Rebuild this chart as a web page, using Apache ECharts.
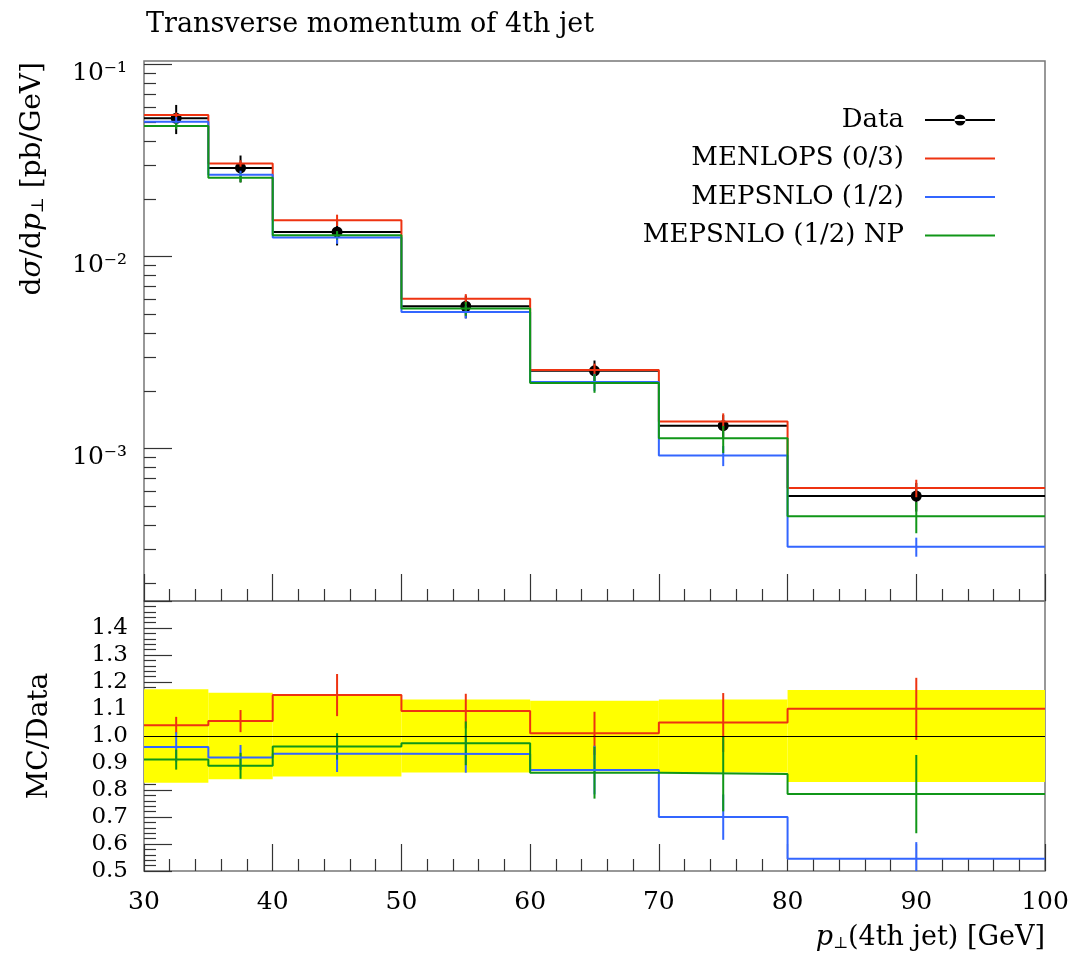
<!DOCTYPE html>
<html>
<head>
<meta charset="utf-8">
<title>Transverse momentum of 4th jet</title>
<script src="https://cdn.jsdelivr.net/npm/echarts@6/dist/echarts.min.js"></script>
<style>
  html, body { margin: 0; padding: 0; background: #fff; }
  #chart { width: 1073px; height: 957px; }
</style>
</head>
<body>
<div id="chart"></div>
<script>
// bin edges of the 4th jet p_T histogram [GeV]
const binEdges = [30, 35, 40, 50, 60, 70, 80, 100];

// measured cross section [pb/GeV] and its relative uncertainty (yellow band)
const dataValues = [0.0526, 0.0290, 0.01346, 0.00552, 0.002545, 0.001318, 0.000567];
const dataRelErr = [0.173, 0.160, 0.150, 0.135, 0.131, 0.135, 0.170];

// MC predictions [pb/GeV]
const menlops = [0.0547, 0.0306, 0.0155, 0.00603, 0.00257, 0.001384, 0.000624];
const mepsnlo = [0.05045, 0.0267, 0.01258, 0.00515, 0.002224, 0.000922, 0.000309];
const mepsnloNP = [0.0480, 0.0258, 0.01294, 0.00537, 0.002199, 0.001132, 0.000445];

// MC statistical errors, as a fraction of the data value
const menlopsErr = [0.031, 0.041, 0.078, 0.064, 0.080, 0.109, 0.115];
const mepsnloErr = [0.055, 0.046, 0.068, 0.069, 0.090, 0.084, 0.062];
const mepsnloNPErr = [0.037, 0.048, 0.049, 0.081, 0.096, 0.138, 0.145];

const seriesNames = ['MENLOPS (0/3)', 'MEPSNLO (1/2)', 'MEPSNLO (1/2) NP'];
const seriesColors = ['#EE3311', '#3366FF', '#109618'];

// axis ticks
const xTicks = { min: 30, max: 100, interval: 10 };
const logMajorTicks = [0.001, 0.01, 0.1];
const logMajorLabels = ['10\u207b\u00b3', '10\u207b\u00b2', '10\u207b\u00b9'];
const logMinorMantissas = [2, 3, 4, 5, 6, 7, 8, 9];
const logMinorDecades = [0.0001, 0.001, 0.01];
const ratioTicks = { min: 0.5, max: 1.5, interval: 0.1 };

const FONT = '"DejaVu Serif", serif';
const TICK_COLOR = '#333';
const FRAME_COLOR = '#777';

const logMinorTicks = [];
logMinorDecades.forEach((d) => {
  logMinorMantissas.forEach((m) => logMinorTicks.push(+(m * d).toPrecision(3)));
});

const binCenters = dataValues.map((_, i) => (binEdges[i] + binEdges[i + 1]) / 2);

function stepData(values) {
  const pts = values.map((v, i) => [binEdges[i], v]);
  pts.push([binEdges[binEdges.length - 1], values[values.length - 1]]);
  return pts;
}

function errorBarItem(params, api) {
  const top = api.coord([api.value(0), api.value(2)]);
  const bottom = api.coord([api.value(0), api.value(1)]);
  return {
    type: 'line',
    shape: { x1: top[0], y1: top[1], x2: bottom[0], y2: bottom[1] },
    style: { stroke: api.visual('color'), lineWidth: 2 },
  };
}

function dataItem(params, api) {
  const mid = (api.value(0) + api.value(1)) / 2;
  const left = api.coord([api.value(0), api.value(2)]);
  const right = api.coord([api.value(1), api.value(2)]);
  const center = api.coord([mid, api.value(2)]);
  const hi = api.coord([mid, api.value(4)]);
  const lo = api.coord([mid, api.value(3)]);
  return {
    type: 'group',
    children: [
      { type: 'line', shape: { x1: left[0], y1: left[1], x2: right[0], y2: right[1] }, style: { stroke: '#000', lineWidth: 2 } },
      { type: 'line', shape: { x1: hi[0], y1: hi[1], x2: lo[0], y2: lo[1] }, style: { stroke: '#000', lineWidth: 2 } },
      { type: 'circle', shape: { cx: center[0], cy: center[1], r: 5.5 }, style: { fill: '#000' } },
    ],
  };
}

function bandItem(params, api) {
  const p1 = api.coord([api.value(0), api.value(3)]);
  const p2 = api.coord([api.value(1), api.value(2)]);
  return {
    type: 'rect',
    shape: { x: p1[0], y: p1[1], width: p2[0] - p1[0], height: p2[1] - p1[1] },
    style: { fill: '#FFFF00' },
  };
}

const mcValues = [menlops, mepsnlo, mepsnloNP];
const mcErrors = [menlopsErr, mepsnloErr, mepsnloNPErr];

const series = [];

// top panel: data
series.push({
  name: 'Data',
  type: 'custom',
  xAxisIndex: 0,
  yAxisIndex: 0,
  clip: true,
  itemStyle: { color: '#000' },
  encode: { x: [0, 1], y: [2, 3, 4] },
  renderItem: dataItem,
  data: dataValues.map((v, i) => [binEdges[i], binEdges[i + 1], v, v * (1 - dataRelErr[i]), v * (1 + dataRelErr[i])]),
});

// top panel: MC histograms with error bars
mcValues.forEach((vals, k) => {
  series.push({
    name: seriesNames[k],
    type: 'line',
    xAxisIndex: 0,
    yAxisIndex: 0,
    step: 'end',
    symbol: 'none',
    color: seriesColors[k],
    lineStyle: { width: 2, color: seriesColors[k] },
    data: stepData(vals),
  });
  series.push({
    name: seriesNames[k],
    type: 'custom',
    xAxisIndex: 0,
    yAxisIndex: 0,
    clip: true,
    itemStyle: { color: seriesColors[k] },
    encode: { x: 0, y: [1, 2] },
    renderItem: errorBarItem,
    data: vals.map((v, i) => [binCenters[i], v - mcErrors[k][i] * dataValues[i], v + mcErrors[k][i] * dataValues[i]]),
  });
});

// ratio panel: data uncertainty band and unit line
series.push({
  name: 'Data',
  type: 'custom',
  xAxisIndex: 1,
  yAxisIndex: 2,
  clip: true,
  itemStyle: { color: '#000' },
  encode: { x: [0, 1], y: [2, 3] },
  renderItem: bandItem,
  data: dataRelErr.map((e, i) => [binEdges[i], binEdges[i + 1], 1 - e, 1 + e]),
  markLine: {
    silent: true,
    symbol: 'none',
    label: { show: false },
    lineStyle: { color: '#000', width: 1, type: 'solid' },
    data: [{ yAxis: 1 }],
  },
});

// ratio panel: MC / data
mcValues.forEach((vals, k) => {
  const ratio = vals.map((v, i) => v / dataValues[i]);
  series.push({
    name: seriesNames[k],
    type: 'line',
    xAxisIndex: 1,
    yAxisIndex: 2,
    step: 'end',
    symbol: 'none',
    color: seriesColors[k],
    lineStyle: { width: 2, color: seriesColors[k] },
    data: stepData(ratio),
  });
  series.push({
    name: seriesNames[k],
    type: 'custom',
    xAxisIndex: 1,
    yAxisIndex: 2,
    clip: true,
    itemStyle: { color: seriesColors[k] },
    encode: { x: 0, y: [1, 2] },
    renderItem: errorBarItem,
    data: ratio.map((r, i) => [binCenters[i], r - mcErrors[k][i], r + mcErrors[k][i]]),
  });
});

const LINE_ICON = 'path://M0,0h0.01v0.01h-0.01z M16,4.5h70v2h-70z M85.99,10.99h0.01v0.01h-0.01z';
const DATA_ICON = 'path://M0,0h0.01v0.01h-0.01z M16,4.5h70v2h-70z M45.5,5.5a5.5,5.5 0 1,0 11,0a5.5,5.5 0 1,0 -11,0z';

const xTickCommon = {
  type: 'value',
  min: xTicks.min,
  max: xTicks.max,
  interval: xTicks.interval,
  axisLine: { show: false },
  splitLine: { show: false },
  axisTick: { inside: true, length: 27, lineStyle: { color: TICK_COLOR, width: 1.2 } },
  minorTick: { show: true, splitNumber: 5, length: 12, lineStyle: { color: TICK_COLOR, width: 1.2 } },
};

const option = {
  animation: false,
  backgroundColor: '#fff',
  title: {
    text: 'Transverse momentum of 4th jet',
    left: 141,
    top: 6,
    textStyle: { fontFamily: FONT, fontSize: 27, fontWeight: 'normal', color: '#000' },
  },
  legend: {
    orient: 'vertical',
    align: 'right',
    right: 73,
    top: 102,
    itemWidth: 86,
    itemHeight: 11,
    itemGap: 12.5,
    selectedMode: false,
    itemStyle: { borderWidth: 0 },
    textStyle: { fontFamily: FONT, fontSize: 26, color: '#000' },
    data: [
      { name: 'Data', icon: DATA_ICON },
      { name: seriesNames[0], icon: LINE_ICON },
      { name: seriesNames[1], icon: LINE_ICON },
      { name: seriesNames[2], icon: LINE_ICON },
    ],
  },
  grid: [
    { left: 144, right: 28, top: 61, height: 540, show: true, borderColor: FRAME_COLOR, borderWidth: 1.5, backgroundColor: 'transparent' },
    { left: 144, right: 28, top: 601, height: 270, show: true, borderColor: FRAME_COLOR, borderWidth: 1.5, backgroundColor: 'transparent' },
  ],
  xAxis: [
    Object.assign({ gridIndex: 0, axisLabel: { show: false } }, xTickCommon),
    Object.assign({
      gridIndex: 1,
      axisLabel: { fontFamily: FONT, fontSize: 25, color: '#000', margin: 19 },
    }, xTickCommon),
  ],
  yAxis: [
    {
      gridIndex: 0,
      type: 'log',
      position: 'left',
      min: 0.000161,
      max: 0.1045,
      axisLine: { show: false },
      splitLine: { show: false },
      minorTick: { show: false },
      axisTick: { inside: true, length: 28, customValues: logMajorTicks, lineStyle: { color: TICK_COLOR, width: 1.2 } },
      axisLabel: {
        customValues: logMajorTicks,
        margin: 17,
        fontFamily: FONT,
        fontSize: 25,
        lineHeight: 18,
        verticalAlign: 'top',
        color: '#000',
        formatter: (v) => logMajorLabels[logMajorTicks.findIndex((t) => Math.abs(t - v) < t * 1e-6)],
      },
    },
    {
      gridIndex: 0,
      type: 'log',
      position: 'left',
      min: 0.000161,
      max: 0.1045,
      axisLine: { show: false },
      splitLine: { show: false },
      axisLabel: { show: false },
      axisTick: { inside: true, length: 12, customValues: logMinorTicks, lineStyle: { color: TICK_COLOR, width: 1.2 } },
    },
    {
      gridIndex: 1,
      type: 'value',
      min: ratioTicks.min,
      max: ratioTicks.max,
      interval: ratioTicks.interval,
      axisLine: { show: false },
      splitLine: { show: false },
      axisTick: { inside: true, length: 28, lineStyle: { color: TICK_COLOR, width: 1.2 } },
      minorTick: { show: true, splitNumber: 5, length: 12, lineStyle: { color: TICK_COLOR, width: 1.2 } },
      axisLabel: {
        showMaxLabel: false,
        margin: 16,
        fontFamily: FONT,
        fontSize: 23,
        color: '#000',
        formatter: (v) => v.toFixed(1),
      },
    },
  ],
  graphic: [
    {
      type: 'text',
      x: 33,
      y: 62,
      rotation: Math.PI / 2,
      style: {
        text: '{r|d}{i|\u03c3}{r|/d}{i|p}{sub|\u22a5}{r| [pb/GeV]}',
        align: 'right',
        verticalAlign: 'middle',
        rich: {
          r: { fontFamily: FONT, fontSize: 28, fill: '#000' },
          i: { fontFamily: FONT, fontSize: 28, fontStyle: 'italic', fill: '#000' },
          sub: { fontFamily: FONT, fontSize: 17, fill: '#000', padding: [12, 0, 0, 0] },
        },
      },
    },
    {
      type: 'text',
      x: 40,
      y: 736,
      rotation: Math.PI / 2,
      style: {
        text: 'MC/Data',
        align: 'center',
        verticalAlign: 'middle',
        font: '28px ' + FONT,
        fill: '#000',
      },
    },
    {
      type: 'text',
      x: 1045,
      y: 938,
      style: {
        text: '{i|p}{sub|\u22a5}{r|(4th jet) [GeV]}',
        align: 'right',
        verticalAlign: 'middle',
        rich: {
          r: { fontFamily: FONT, fontSize: 27, fill: '#000' },
          i: { fontFamily: FONT, fontSize: 27, fontStyle: 'italic', fill: '#000' },
          sub: { fontFamily: FONT, fontSize: 16, fill: '#000', padding: [12, 0, 0, 0] },
        },
      },
    },
  ],
  series,
};

const chart = echarts.init(document.getElementById('chart'), null, { renderer: 'canvas' });
chart.setOption(option);
</script>
</body>
</html>
